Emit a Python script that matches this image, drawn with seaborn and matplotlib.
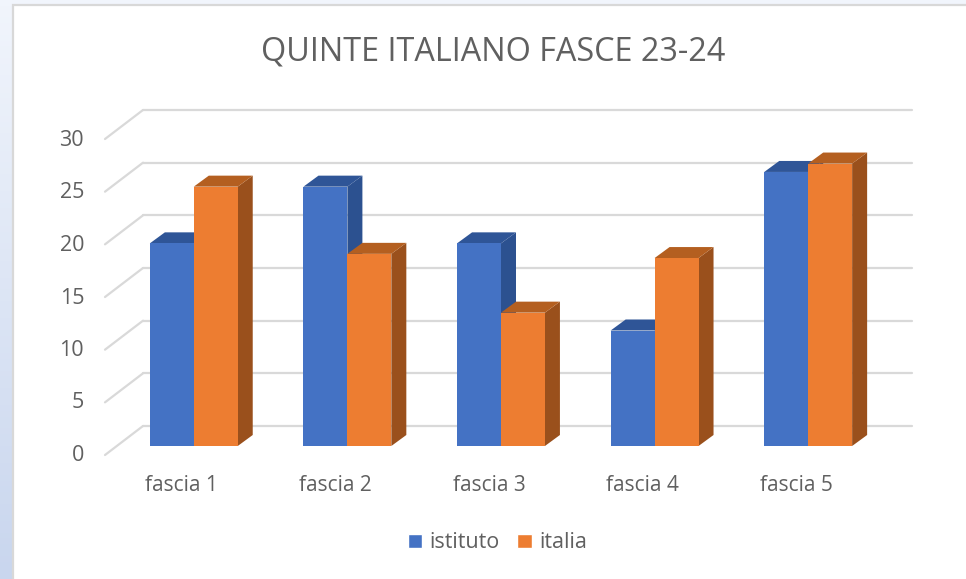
import numpy as np
import pandas as pd
import matplotlib
matplotlib.use("Agg")
import matplotlib.pyplot as plt
from matplotlib.patches import Polygon, Rectangle
import seaborn as sns

categories = ["fascia 1", "fascia 2", "fascia 3", "fascia 4", "fascia 5"]
istituto = [19.3, 24.7, 19.3, 11.0, 26.1]
italia = [24.7, 18.3, 12.7, 17.9, 26.9]
y_ticks = [0, 5, 10, 15, 20, 25, 30]
title = "QUINTE ITALIANO FASCE 23-24"

W, H = 966, 579
TEXT = "#606060"
GRID = "#D9D9D9"
front_colors = {"istituto": "#4472C4", "italia": "#ED7D31"}
top_colors = {"istituto": "#2F5597", "italia": "#B45F20"}
side_colors = {"istituto": "#2C5190", "italia": "#9A501C"}

sns.set_theme(style="white")
plt.rcParams["font.family"] = ["Open Sans", "DejaVu Sans"]


def px_axes(fig, left, right, bottom, top):
    # pixel box measured from the top left of the picture
    return fig.add_axes([left / W, 1 - bottom / H, (right - left) / W, (bottom - top) / H])


fig = plt.figure(figsize=(W / 100, H / 100), dpi=100, facecolor="white")

# window background behind the chart
bg = fig.add_axes([0, 0, 1, 1], zorder=0)
bg.imshow(np.linspace(0, 1, 100).reshape(-1, 1), aspect="auto",
          cmap=matplotlib.colors.LinearSegmentedColormap.from_list("bg", ["#F1F5FC", "#C9D6EE"]))
bg.axis("off")
bg.add_patch(Rectangle((13 / W, -0.1), 1.1, 1.1 - 5 / H, transform=bg.transAxes,
                       facecolor="white", edgecolor="#D8D8D8", linewidth=1.6))

# back wall with the gridlines
wall = px_axes(fig, 143, 912, 426, 110)
wall.set_zorder(1)
wall.patch.set_alpha(0)
wall.set_ylim(0, 30)
wall.set_xticks([])
wall.set_yticks(y_ticks)
wall.set_yticklabels([])
wall.tick_params(length=0)
sns.despine(ax=wall, left=True, bottom=True)
for v in y_ticks:
    wall.axhline(v, color=GRID, lw=1.6, clip_on=False)
    wall.plot([-38 / 769, 0], [v - 29 / 10.53, v], color=GRID, lw=1.6, clip_on=False,
              transform=wall.get_yaxis_transform())

# front plane only carries the tick labels
labels_ax = px_axes(fig, 105, 873, 453, 138)
labels_ax.set_zorder(2)
labels_ax.patch.set_alpha(0)
labels_ax.set_xlim(-0.5, 4.5)
labels_ax.set_ylim(0, 30)
labels_ax.set_xticks(range(len(categories)))
labels_ax.set_xticklabels(categories)
labels_ax.set_yticks(y_ticks)
labels_ax.tick_params(axis="y", length=0, pad=15, labelsize=15.5, labelcolor=TEXT)
labels_ax.tick_params(axis="x", length=0, pad=15.5, labelsize=15, labelcolor=TEXT)
sns.despine(ax=labels_ax, left=True, bottom=True)

# bars
df = pd.DataFrame({"fascia": categories, "istituto": istituto, "italia": italia})
df = df.melt(id_vars="fascia", var_name="serie", value_name="valore")

ax = px_axes(fig, 117, 885, 446, 131)
ax.set_zorder(3)
ax.patch.set_alpha(0)
sns.barplot(data=df, x="fascia", y="valore", hue="serie", palette=front_colors,
            width=0.572, gap=0, saturation=1, ax=ax)
ax.set_xlim(-0.5, 4.5)
ax.set_ylim(0, 30)
ax.set_xticks([])
ax.set_yticks([])
ax.set_xlabel("")
ax.set_ylabel("")
sns.despine(ax=ax, left=True, bottom=True)

dx = 15 / (768 / 5)
dy = 11 / 10.5
for s, container in enumerate(ax.containers):
    name = df["serie"].unique()[s]
    for b in container:
        x0, x1 = b.get_x(), b.get_x() + b.get_width()
        h = b.get_height()
        z = 3 + s * 3
        ax.add_patch(Polygon([(x1, 0), (x1 + dx, dy), (x1 + dx, h + dy), (x1, h)],
                             facecolor=side_colors[name], edgecolor="none", zorder=z, clip_on=False))
        ax.add_patch(Polygon([(x0, h), (x0 + dx, h + dy), (x1 + dx, h + dy), (x1, h)],
                             facecolor=top_colors[name], edgecolor="none", zorder=z + 1, clip_on=False))
        b.set_zorder(z + 2)
        b.set_linewidth(0)

sns.move_legend(ax, "center", bbox_to_anchor=(497.5 / W, 1 - 543 / H),
                bbox_transform=fig.transFigure, ncol=2, frameon=False, title=None,
                fontsize=15.5, labelcolor=TEXT, handlelength=0.68, handleheight=0.68,
                handletextpad=0.35, columnspacing=0.8)

fig.text(493 / W, 1 - 52.5 / H, title, ha="center", va="center", fontsize=23.3, color=TEXT)

fig.savefig("out.png", dpi=100)
